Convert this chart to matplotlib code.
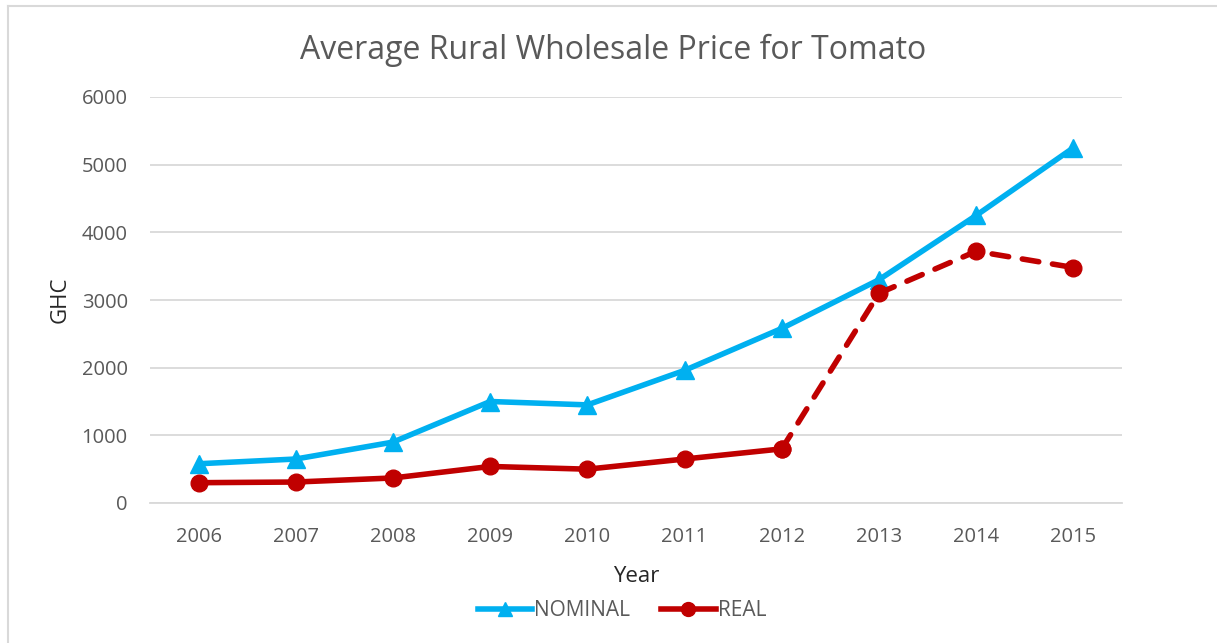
import matplotlib.pyplot as plt
from matplotlib.lines import Line2D

years = [2006, 2007, 2008, 2009, 2010, 2011, 2012, 2013, 2014, 2015]
nominal = [580, 650, 900, 1500, 1450, 1960, 2580, 3300, 4250, 5250]
real = [300, 310, 370, 540, 500, 650, 800, 3100, 3720, 3480]

BLUE = '#00B0F0'
RED = '#C00000'
GRAY = '#595959'

plt.rcParams['font.family'] = ['Open Sans', 'DejaVu Sans']

fig = plt.figure(figsize=(12.17, 6.43), dpi=100)
W, H = 1217, 643
ax = fig.add_axes([150 / W, (H - 503) / H, (1122 - 150) / W, (503 - 97) / H])

x = list(range(len(years)))
ax.plot(x, nominal, color=BLUE, lw=4, marker='^', ms=13, solid_capstyle='round')
# real price: solid to 2012, dashed afterwards
ax.plot(x[:7], real[:7], color=RED, lw=4, marker='o', ms=12, solid_capstyle='round')
ax.plot(x[6:], real[6:], color=RED, lw=4, ls=(0, (3, 2.5)), marker='o', ms=12,
        dash_capstyle='round')

ax.set_xlim(-0.5, len(years) - 0.5)
ax.set_ylim(0, 6000)
ax.set_yticks(range(0, 6001, 1000))
ax.set_xticks(x)
ax.set_xticklabels([str(y) for y in years])
ax.grid(axis='y', color='#D9D9D9', lw=1.3)
ax.set_axisbelow(True)
for s in ['top', 'right', 'left']:
    ax.spines[s].set_visible(False)
ax.spines['bottom'].set_color('#D9D9D9')
ax.spines['bottom'].set_linewidth(1.3)
ax.tick_params(length=0, labelsize=14.5, labelcolor=GRAY)
ax.tick_params(axis='x', pad=17)
ax.tick_params(axis='y', pad=16)

ax.set_xlabel('Year', fontsize=16, color='#262626', labelpad=14)
ax.set_ylabel('GHC', fontsize=16, color='#262626', labelpad=8)
fig.text(613 / W, 1 - 50 / H, 'Average Rural Wholesale Price for Tomato',
         ha='center', va='center', fontsize=23, color=GRAY)

handles = [Line2D([], [], color=BLUE, lw=4, marker='^', ms=10),
           Line2D([], [], color=RED, lw=4, marker='o', ms=10)]
fig.legend(handles, ['NOMINAL', 'REAL'], loc='center', bbox_to_anchor=(622 / W, 1 - 611 / H),
           ncol=2, frameon=False, fontsize=15, labelcolor=GRAY,
           handlelength=2.6, handletextpad=0.1, columnspacing=1.5)

# chart border (left and top only visible)
fig.add_artist(Line2D([7.5 / W, 7.5 / W], [0, 1 - 6 / H], color='#D9D9D9', lw=1.5))
fig.add_artist(Line2D([7.5 / W, 1], [1 - 6 / H, 1 - 6 / H], color='#D9D9D9', lw=1.5))

fig.savefig('out.png', dpi=100)
